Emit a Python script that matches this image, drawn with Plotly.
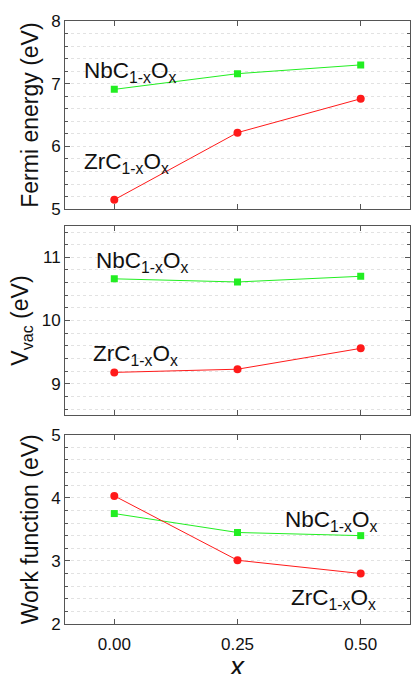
import plotly.graph_objects as go

x_vals = [0.0, 0.25, 0.5]
fermi_nb = [6.91, 7.16, 7.30]
fermi_zr = [5.15, 6.22, 6.76]
vvac_nb = [10.66, 10.61, 10.70]
vvac_zr = [9.18, 9.23, 9.56]
wf_nb = [3.75, 3.45, 3.40]
wf_zr = [4.03, 3.01, 2.80]
x_ticks = [0.0, 0.25, 0.5]
x_ticklabels = ["0.00", "0.25", "0.50"]

GREEN = "#22ee22"
RED = "#ff1a1a"
FONT = "Liberation Sans, Arial, sans-serif"
AX = "#555555"
GRID = "#e2e2e2"

fig = go.Figure()

panels = [
    ("x", "y", fermi_nb, fermi_zr),
    ("x2", "y2", vvac_nb, vvac_zr),
    ("x3", "y3", wf_nb, wf_zr),
]
for xa, ya, nb, zr in panels:
    fig.add_trace(go.Scatter(x=x_vals, y=nb, xaxis=xa, yaxis=ya, mode="lines+markers",
                             line=dict(color=GREEN, width=1),
                             marker=dict(symbol="square", size=7, color=GREEN),
                             showlegend=False))
    fig.add_trace(go.Scatter(x=x_vals, y=zr, xaxis=xa, yaxis=ya, mode="lines+markers",
                             line=dict(color=RED, width=1),
                             marker=dict(symbol="circle", size=8, color=RED),
                             showlegend=False))

def xaxis(domain_anchor, show_labels):
    return dict(domain=[0, 1], anchor=domain_anchor, range=[-0.1, 0.6],
                tickvals=x_ticks, ticktext=x_ticklabels, showticklabels=show_labels,
                ticks="inside", ticklen=5, tickcolor=AX, showgrid=False, zeroline=False,
                showline=True, linecolor=AX, linewidth=1, mirror="allticks",
                ticklabelstandoff=5,
                tickfont=dict(size=17, family=FONT, color="#111"))

def yaxis(domain, rng, title, anchor):
    return dict(domain=domain, anchor=anchor, range=rng, dtick=1,
                ticks="inside", ticklen=5, tickcolor=AX,
                showgrid=True, gridcolor=GRID, griddash="dot", gridwidth=1,
                zeroline=False, showline=True, linecolor=AX, linewidth=1, mirror="allticks",
                minor=dict(dtick=0.2, ticks="inside", ticklen=3, tickcolor=AX,
                           showgrid=True, gridcolor=GRID, griddash="dot", gridwidth=1),
                tickfont=dict(size=17, family=FONT, color="#111"),
                title=dict(text=title, font=dict(size=23, family=FONT, color="#111"), standoff=6))

fig.update_layout(
    width=411, height=674,
    margin=dict(l=65, r=1, t=21, b=50),
    paper_bgcolor="white", plot_bgcolor="white",
    xaxis=xaxis("y", False),
    xaxis2=xaxis("y2", False),
    xaxis3=xaxis("y3", True),
    yaxis=yaxis([0.688, 1.0], [5, 8], "Fermi energy (eV)", "x"),
    yaxis2=yaxis([0.346, 0.6605], [8.5, 11.5], "V<sub>vac</sub> (eV)", "x2"),
    yaxis3=yaxis([0.0, 0.314], [2, 5], "Work function (eV)", "x3"),
)

# x-axis title placed as a paper annotation below the tick labels
fig.add_annotation(x=0.497, y=-0.071, xref="paper", yref="paper", text="<i>x</i>",
                   showarrow=False, xanchor="center", yanchor="middle",
                   font=dict(size=28, family=FONT, color="#111"))

nb = "NbC<sub>1-x</sub>O<sub>x</sub>"
zr = "ZrC<sub>1-x</sub>O<sub>x</sub>"
labels = [
    ("x", "y", -0.065, 7.19, nb),
    ("x", "y", -0.065, 5.73, zr),
    ("x2", "y2", -0.042, 10.92, nb),
    ("x2", "y2", -0.047, 9.46, zr),
    ("x3", "y3", 0.342, 3.63, nb),
    ("x3", "y3", 0.354, 2.39, zr),
]
for xr, yr, xv, yv, t in labels:
    fig.add_annotation(x=xv, y=yv, xref=xr, yref=yr, text=t, showarrow=False,
                       xanchor="left", yanchor="middle",
                       font=dict(size=22.5, family=FONT, color="#111"))

fig.write_html("out.html")
